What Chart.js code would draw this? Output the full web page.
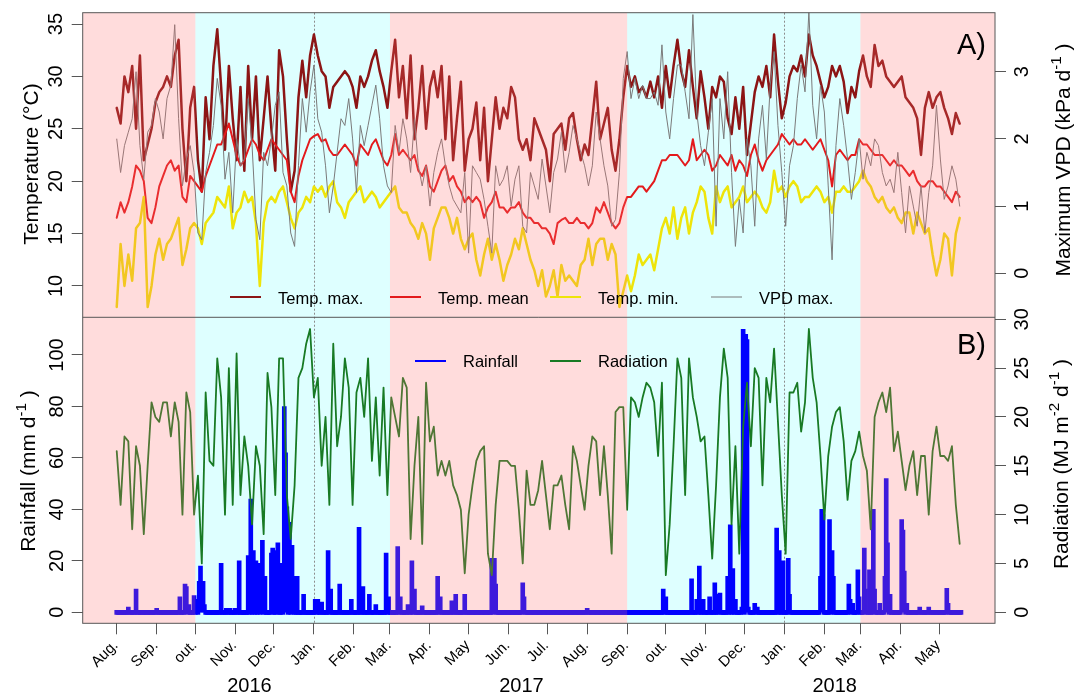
<!DOCTYPE html>
<html>
<head>
<meta charset="utf-8">
<title>Weather 2016-2018</title>
<script src="https://cdn.jsdelivr.net/npm/chart.js@4.4.1/dist/chart.umd.min.js"></script>
<style>
  html, body { margin: 0; padding: 0; background: #fff; }
  #wrap { position: relative; width: 1082px; height: 697px; }
  canvas { display: block; }
</style>
</head>
<body>
<div id="wrap"><canvas id="c" width="1082" height="697"></canvas></div>
<script>
// ---- data: one sample every 3 days starting 1 Aug 2016 ----
const STEP_DAYS = 3;
const ORIGIN = Date.UTC(2016, 7, 1);

const tempMax = [27,25.5,30,28.5,31,25,32,22,23.5,25,27.5,28.5,29,30,29,32,33.5,25,20,27,29,22,19,28,24,31,34.5,29,23,31,26,22,29,21,31,24,30,22,26,30,25,21,32.5,30,24,19,21,28,31.5,28,32,34,32,30.5,30,27,29,29.5,30,30.5,30,29,27,
  30,29,30,31.5,32.5,30.5,29,27,30.5,33.5,28,31,26,32,24,27,31,25,29,30.5,28,31,24,30,22,26,29.5,21,24,25,27.5,22,27,20,24,28,25,27,26,29,28,24,23,24,22,26,25,24,23,20,24.5,25,25.5,23,26,26.5,24,22,23.5,22.5,26,29.5,24,25.5,27,23,21,24,28,31,29,30,28.5,29,28,29.5,28,30,27,31,28,31,33.5,30.5,29,32.5,29,26,30.5,28,25,29,28,
  30,29.5,26,24.5,28,25,29,22.5,25.5,28.5,30,29,31,28,34,29.5,26,27.5,30,31,30.5,32,30,34,32,31,29.5,28,29,31,30,31,29.5,26.5,29,28,30.5,32,30,29,33,31,31.5,30,29.5,29,29.5,30,28,27.5,27,26,22.5,27,28.5,27,28,28.5,27,26,24.5,26.5,25.5];

const tempMean = [16.5,18,17,18,19.5,21.5,21,20,16.5,16,17.5,19.5,20.5,21.5,22,21,21.5,18.5,18,20.5,20,19.5,19,20.5,21.5,22.5,23.5,23.5,24.5,25.5,24,22.5,21.5,22,23,24,23.5,22.5,22,23,24,23.5,23,22.5,22,19,18,20.5,22,23,24,24.3,24.5,23.8,24,23,22.5,22.5,23,23.5,23,22.5,21.5,
  23.5,23,22.5,23.5,24,23,22,21.5,22.5,24.5,22.5,23,22.5,22,22.5,21,20.5,21.5,19.5,19,20,21,21.5,20,20.5,19.5,19,18,18.5,18,18.5,18,16.5,17.5,18,19,17.5,17.5,17,17.5,17.5,18,17,16.5,16.5,16,16,15.5,15.5,15,14,16,16.3,16.5,16,16,16.5,16,16,15.5,16,17.5,17,18,17,16,15.5,16,17.5,18.5,18.5,19,19.5,19.5,19,19.5,20,21,22,22,22.5,22.5,22.5,22,21.5,22,24,22,22.5,23,22.5,21,21.5,
  22.5,22,21.5,22.5,21,22,21.5,20.5,22.5,23.5,22,21,22,22.5,23,23.5,24.5,24,23.5,24,23.5,23.5,24,23.5,23,23.5,24,23,22,19.5,22.5,23,22.5,22,22.5,22.5,24,23.5,23.5,23,22.5,22.5,22.5,22,21.5,22,21.5,21.5,21,20.5,21,20,19.5,19.5,20,20,19.5,19.5,19,18.5,18,19,18.5];

const tempMin = [8,14,10,13,10.5,15.5,16,18.5,8,10,13,14.5,12.5,14,14.5,15.5,16.5,12,13.5,15.5,16,15.5,14,16,16.5,17,18.5,18,17.5,19.5,15.5,17,17.5,19,18,18.5,16,10,16,18,18.5,18,19,19.5,18,16.5,15.5,17,17.5,18.5,18,19.5,19,19.5,18.5,19.5,20,18,17.5,16.5,18,18.5,19,
  19.5,18,18.5,19,18.5,17.5,18,18.5,19,19.5,17.5,17,17,16,15.5,14.5,16,15,12.5,15.5,16.5,17.5,17.5,16.5,15,16.5,14.5,13.5,14.5,15,12.5,11,13,14.5,12.5,14,12.5,10.5,12,13,14.5,13.5,15.5,14,12.5,11.5,10,11.5,9,10,11.5,9,12,10.5,11,10.5,10,12,12.5,14.5,12,14,14.5,14.5,12.5,14,13,8,9.5,11,9.5,11,13,12,12.5,13,11.5,13.5,15.5,16.5,15,17.5,14.5,16.5,17.5,15,17,18,19.5,19,16.5,15,19.5,
  18,19,19.5,17.5,18,18.5,19.5,18,18.5,19,18.5,17.5,17,18,21,19,19.5,18.5,19.5,20,19.5,18,18.5,18.5,19,19.5,19,18,18.5,17,19,19,19.5,19,19,19.5,20,21,20,19.5,18.5,18,18.5,17.5,17,17.5,16.5,16,17,17,15,17,16,15,15.5,13,11,12.5,15,14.5,11,15,16.5];

const vpdMax = [2.0,1.5,1.9,2.1,2.3,3.0,1.9,1.4,2.1,2.2,2.6,2.4,2.0,2.6,2.8,3.7,2.3,1.3,1.7,1.9,1.5,0.6,0.5,1.5,1.8,2.2,2.9,2.5,1.4,1.8,0.9,2.0,1.6,1.7,2.6,1.9,0.8,0.5,1.8,1.6,2.0,2.5,2.7,1.5,1.3,0.6,0.4,1.6,2.6,2.1,2.7,3.1,2.3,2.1,1.6,0.9,1.3,1.8,2.3,2.2,2.6,2.0,1.2,
  2.2,1.9,2.2,2.5,2.8,2.3,1.6,1.3,1.2,2.2,1.8,2.3,2.0,1.5,2.3,1.6,1.3,1.6,1.0,1.5,1.8,2.0,1.6,1.3,1.1,1.0,0.9,1.5,0.3,1.6,1.5,1.4,1.1,0.7,0.3,1.6,1.3,1.4,1.6,1.0,1.4,1.6,0.7,0.6,1.5,1.3,1.1,1.7,1.3,0.9,1.5,1.7,2.1,1.5,1.8,2.2,2.0,1.8,1.6,1.3,1.6,2.4,2.0,1.6,1.3,0.7,0.8,1.5,2.9,3.3,2.6,2.9,2.6,2.8,2.6,2.6,2.7,2.5,3.4,2.4,2.0,2.6,3.1,3.1,2.7,2.3,3.85,2.4,1.9,1.6,2.1,2.6,0.7,
  2.6,2.0,3.0,1.5,0.4,1.1,0.6,2.0,1.6,0.7,2.0,2.5,1.7,2.8,3.3,2.2,1.5,0.7,1.6,1.9,2.6,3.1,2.7,3.9,2.5,2.0,2.8,2.4,1.3,0.2,1.9,2.6,2.2,1.7,1.1,1.5,2.0,1.4,1.8,1.6,2.0,1.9,1.5,1.3,1.4,1.2,1.8,1.2,0.6,1.3,1.0,0.7,1.3,0.6,1.2,1.6,2.5,1.7,1.1,1.3,1.6,1.4,1.0];

const radiation = [16.5,11,18,17.5,8.5,17,15,8,15,21.5,20,19.5,21.5,21.5,18,21.5,19.5,10,22.5,20.5,10,14,5,22.5,15.5,15,26,22,10,25,11,26.5,12,18,15,9,17,15,8,24.5,21,12,26,26,12,7.5,13,24,25,27.5,29,22,24,15,20,11,27.5,17,20,26,23,11,22.5,
  24,20,26,15.5,22,14,23,12,22,20,18,24,23,7.5,15,20,7,23.5,17.5,19,14,15.5,14,15.5,13,12,10.5,4,10,13,15.5,16.5,17,6,3.8,11,15.5,15.5,15.5,15,15,10.5,5,14.5,11,11,12.5,15.5,12,8.5,13,13,14,11,8.5,17,15.5,13,10.5,15,18,17.5,12,17,12,6,20.5,21,21,10.5,22,21.5,20,22,23.5,23,21.5,16,23.5,3.8,9,17,26,24,12,26,22,20,17.5,18,12,5.5,13,
  22,27,24,9,17,6,19,23.5,17,25,24,13,24,21.5,27,19.5,12,6,22.5,22.5,23.5,18.5,21.5,29,24,21.5,16,9.5,16,19,20.5,21,17.5,11.5,15.5,16.5,18.5,16,14.5,8.5,20,21.5,22.5,20.5,23,16.5,18.5,15.5,12.5,15,16.5,12,16,16,10,16.5,19,16,16,15.5,17,11,7];

// daily rainfall: days (since 1 Aug 2016) with rain and the amount in mm; all other days are dry
const RAIN_LAST_DAY = 655;
const rainDay = [9,15,31,49,53,54,56,60,62,64,65,66,67,68,81,85,88,92,95,102,104,106,108,110,112,113,115,120,121,124,125,128,130,131,132,134,136,137,140,145,154,156,159,164,166,173,182,188,191,196,201,209,211,218,220,226,229,231,237,249,251,260,263,270,291,293,294,315,316,365,424,426,446,450,452,455,460,464,467,468,474,476,478,480,485,486,488,489,490,495,497,512,514,517,521,522,546,547,548,553,555,556,568,569,571,575,576,580,581,584,587,588,592,596,597,598,600,609,610,611,613,623,630,644,645];
const rainMm  = [2,9,1,6,11,10,3,6.5,5,12,18,11,12,3,19,1.5,1.5,1.5,20,22,44,24,20,19,5,28,14,23,25,24,27,19,80,62,41,35,26,14,14,7,5,5,4,24,9,11,5,33,10,7,3,23,6,25.5,6,3,20,9,2.5,14,6,4.5,7,7,21,21,11,11.5,6,1.5,9,6,13,5,18,5,6,11.5,7,7.5,14,34,17,5,2,110,108,106,2,3.5,2,32.7,24,20,21,7,14,40,38,36,24,14,11,5,3.5,16.5,6,25,9,16.5,40,9,3.5,14,52,27,7,36,32,16,3.5,2,2,9.3,3.5];

// axis ticks
const monthTickDates = ['2016-08-01','2016-09-01','2016-10-01','2016-11-01','2016-12-01','2017-01-01','2017-02-01','2017-03-01','2017-04-01','2017-05-01','2017-06-01','2017-07-01','2017-08-01','2017-09-01','2017-10-01','2017-11-01','2017-12-01','2018-01-01','2018-02-01','2018-03-01','2018-04-01','2018-05-01'];
const monthTickLabels = ['Aug.','Sep.','out.','Nov.','Dec.','Jan.','Feb.','Mar.','Apr.','May','Jun.','Jul.','Aug.','Sep.','out.','Nov.','Dec.','Jan.','Feb.','Mar.','Apr.','May'];
const yearLabels = ['2016','2017','2018'];
const yearLabelDates = ['2016-11-12','2017-06-11','2018-02-09'];
const tempTicks = [10,15,20,25,30,35];
const vpdTicks = [0,1,2,3];
const rainTicks = [0,20,40,60,80,100];
const radTicks = [0,5,10,15,20,25,30];

// seasons (wet season shaded cyan, dry season tinted pink) and year boundaries
const wetSeasons = [['2016-10-01','2017-03-01'],['2017-09-01','2018-03-01']];
const drySeasons = [[null,'2016-10-01'],['2017-03-01','2017-09-01'],['2018-03-01',null]];
const yearStarts = ['2017-01-01','2018-01-01'];

// ---- helpers ----
const dayOf = s => (Date.UTC(+s.slice(0,4), +s.slice(5,7) - 1, +s.slice(8,10)) - ORIGIN) / 86400000;
const series = arr => arr.map((v, i) => ({ x: i * STEP_DAYS, y: v }));
const rainSeries = (() => {
  const out = [];
  for (let d = 0; d <= RAIN_LAST_DAY; d++) out.push({ x: d, y: 0 });
  rainDay.forEach((d, k) => { out[d].y = rainMm[k]; });
  return out;
})();

const FONT = '"Liberation Sans", Arial, Helvetica, sans-serif';
const AXIS_COLOR = '#575757';
const COLORS = {
  tmax: '#8c1515', tmean: '#e31a1c', tmin: '#eee40a', vpd: '#7a7a7a',
  rain: '#0000ff', rad: '#187a24'
};

function fixedTicks(values) {
  return scale => { scale.ticks = values.map(v => ({ value: v })); };
}

function yScale(pos, stack, weight, min, max, ticks, width) {
  return {
    type: 'linear', position: pos, stack: stack, stackWeight: weight,
    min: min, max: max,
    afterBuildTicks: fixedTicks(ticks),
    afterFit: s => { s.width = width; },
    grid: { drawOnChartArea: false, drawTicks: true, tickLength: 11, color: AXIS_COLOR, lineWidth: 1 },
    border: { display: false },
    ticks: { display: false }
  };
}

function rotatedParts(ctx, parts, baseX, centerY, size) {
  ctx.save();
  ctx.translate(baseX, centerY);
  ctx.rotate(-Math.PI / 2);
  ctx.textAlign = 'left';
  ctx.textBaseline = 'alphabetic';
  const supSize = size * 0.72;
  const widths = parts.map(([t, sup]) => {
    ctx.font = `${sup ? supSize : size}px ${FONT}`;
    return ctx.measureText(t).width;
  });
  const total = widths.reduce((a, b) => a + b, 0);
  let x = -total / 2;
  parts.forEach(([t, sup], k) => {
    ctx.font = `${sup ? supSize : size}px ${FONT}`;
    ctx.fillText(t, x, sup ? -size * 0.42 : 0);
    x += widths[k];
  });
  ctx.restore();
}

function yTickLabels(ctx, scale, centerX) {
  const size = 20;
  ctx.font = `${size}px ${FONT}`;
  scale.ticks.forEach(t => {
    const y = scale.getPixelForValue(t.value);
    ctx.save();
    ctx.translate(centerX + size * 0.36, y);
    ctx.rotate(-Math.PI / 2);
    ctx.textAlign = 'center';
    ctx.textBaseline = 'alphabetic';
    ctx.fillText(String(t.value), 0, 0);
    ctx.restore();
  });
}

function legendRow(ctx, items, lineY, textY) {
  ctx.font = `16.5px ${FONT}`;
  ctx.textAlign = 'left';
  ctx.textBaseline = 'alphabetic';
  items.forEach(it => {
    ctx.strokeStyle = it.color;
    ctx.lineWidth = it.width;
    ctx.beginPath();
    ctx.moveTo(it.x0, lineY);
    ctx.lineTo(it.x0 + 31, lineY);
    ctx.stroke();
    ctx.fillStyle = '#000';
    ctx.fillText(it.label, it.x0 + 48, textY);
  });
}

const panelsPlugin = {
  id: 'panels',
  beforeDatasetsDraw(chart) {
    const { ctx, chartArea: a, scales } = chart;
    const x = scales.x;
    ctx.save();
    ctx.fillStyle = 'rgb(222,255,255)';
    wetSeasons.forEach(([s, e]) => {
      const x0 = x.getPixelForValue(dayOf(s)), x1 = x.getPixelForValue(dayOf(e));
      ctx.fillRect(x0, a.top, x1 - x0, a.bottom - a.top);
    });
    ctx.strokeStyle = '#8c8c8c';
    ctx.lineWidth = 1;
    ctx.setLineDash([2, 2]);
    yearStarts.forEach(s => {
      const px = Math.round(x.getPixelForValue(dayOf(s))) + 0.5;
      ctx.beginPath();
      ctx.moveTo(px, a.top);
      ctx.lineTo(px, a.bottom);
      ctx.stroke();
    });
    ctx.restore();
  },
  afterDatasetsDraw(chart) {
    const { ctx, chartArea: a, scales } = chart;
    const { x, yT, yR, yV, yS } = scales;
    ctx.save();
    // dry-season tint laid over the series
    ctx.fillStyle = 'rgba(255,110,110,0.24)';
    drySeasons.forEach(([s, e]) => {
      const x0 = s ? x.getPixelForValue(dayOf(s)) : a.left;
      const x1 = e ? x.getPixelForValue(dayOf(e)) : a.right;
      ctx.fillRect(x0, a.top, x1 - x0, a.bottom - a.top);
    });

    // frame and panel divider
    ctx.strokeStyle = AXIS_COLOR;
    ctx.lineWidth = 1;
    ctx.strokeRect(a.left, a.top, a.right - a.left, a.bottom - a.top);
    ctx.beginPath();
    ctx.moveTo(a.left, yT.bottom);
    ctx.lineTo(a.right, yT.bottom);
    ctx.stroke();

    // legends
    legendRow(ctx, [
      { label: 'Temp. max.', color: COLORS.tmax, width: 2, x0: 230 },
      { label: 'Temp. mean', color: COLORS.tmean, width: 2, x0: 390 },
      { label: 'Temp. min.', color: COLORS.tmin, width: 2, x0: 550 },
      { label: 'VPD max.', color: COLORS.vpd, width: 1, x0: 711 }
    ], 297, 303.5);
    legendRow(ctx, [
      { label: 'Rainfall', color: COLORS.rain, width: 2, x0: 415 },
      { label: 'Radiation', color: COLORS.rad, width: 2, x0: 550 }
    ], 361, 367);

    // panel letters
    ctx.fillStyle = '#000';
    ctx.font = `29px ${FONT}`;
    ctx.textAlign = 'right';
    ctx.textBaseline = 'alphabetic';
    ctx.fillText('A)', 986, 53.5);
    ctx.fillText('B)', 986, 353.5);

    // y tick labels
    yTickLabels(ctx, yT, 55);
    yTickLabels(ctx, yR, 56);
    yTickLabels(ctx, yV, 1021);
    yTickLabels(ctx, yS, 1021);

    // x tick labels (months) and years
    ctx.font = `15px ${FONT}`;
    x.ticks.forEach((t, i) => {
      const px = x.getPixelForValue(t.value);
      ctx.save();
      ctx.translate(px + 2, 646);
      ctx.rotate(-Math.PI / 4);
      ctx.textAlign = 'right';
      ctx.textBaseline = 'alphabetic';
      ctx.fillText(monthTickLabels[i], 0, 0);
      ctx.restore();
    });
    ctx.font = `20px ${FONT}`;
    ctx.textAlign = 'center';
    yearLabels.forEach((lab, i) => {
      ctx.fillText(lab, x.getPixelForValue(dayOf(yearLabelDates[i])), 692);
    });

    // axis titles
    rotatedParts(ctx, [['Temperature (°C)', false]], 38, 164, 21);
    rotatedParts(ctx, [['Rainfall (mm d', false], ['-1', true], [' )', false]], 35, 471, 21);
    rotatedParts(ctx, [['Maximum VPD (kPa d', false], ['-1', true], [' )', false]], 1070, 160, 21);
    rotatedParts(ctx, [['Radiation (MJ m', false], ['-2', true], [' d', false], ['-1', true], [' )', false]], 1068, 464, 21);
    ctx.restore();
  }
};

const lineDs = (label, data, axis, color, width, order) => ({
  type: 'line', label, data: series(data), yAxisID: axis, xAxisID: 'x',
  borderColor: color, borderWidth: width, pointRadius: 0, tension: 0,
  borderJoinStyle: 'round', borderCapStyle: 'round', fill: false, order
});

new Chart(document.getElementById('c'), {
  type: 'line',
  data: {
    datasets: [
      lineDs('Temp. max.', tempMax, 'yT', COLORS.tmax, 2.5, 4),
      lineDs('Temp. mean', tempMean, 'yT', COLORS.tmean, 2, 3),
      lineDs('Temp. min.', tempMin, 'yT', COLORS.tmin, 2.5, 2),
      lineDs('VPD max.', vpdMax, 'yV', COLORS.vpd, 1, 1),
      {
        type: 'bar', label: 'Rainfall', data: rainSeries, yAxisID: 'yR', xAxisID: 'x',
        backgroundColor: COLORS.rain, borderWidth: 0, barThickness: 4, minBarLength: 4,
        grouped: false, order: 8
      },
      lineDs('Radiation', radiation, 'yS', COLORS.rad, 1.8, 7)
    ]
  },
  options: {
    responsive: false,
    animation: false,
    devicePixelRatio: 1,
    events: [],
    layout: { padding: { top: 12.7, left: 0, right: 0, bottom: 0 } },
    plugins: { legend: { display: false }, tooltip: { enabled: false } },
    scales: {
      x: {
        type: 'linear', position: 'bottom', min: -26.4, max: 681.4, offset: false,
        afterBuildTicks: s => { s.ticks = monthTickDates.map(d => ({ value: dayOf(d) })); },
        afterFit: s => { s.height = 73.7; },
        grid: { drawOnChartArea: false, drawTicks: true, tickLength: 11, color: AXIS_COLOR, offset: false },
        border: { display: false },
        ticks: { display: false }
      },
      // stacked panels: on the left the first scale of the stack sits lowest, on the right highest
      yR: yScale('left', 'left', 306, -4.27, 114.65, rainTicks, 82.7),
      yT: yScale('left', 'left', 304.6, 7.01, 36.08, tempTicks, 82.7),
      yV: yScale('right', 'right', 304.6, -0.655, 3.878, vpdTicks, 87),
      yS: yScale('right', 'right', 306, -1.126, 30.2, radTicks, 87)
    }
  },
  plugins: [panelsPlugin]
});
</script>
</body>
</html>
